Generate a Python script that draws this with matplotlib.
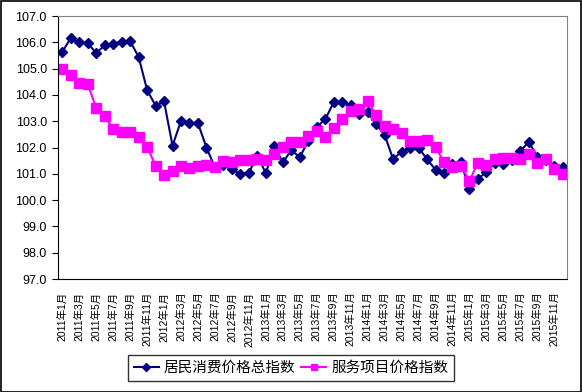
import numpy as np
import matplotlib
matplotlib.use("Agg")
import matplotlib.pyplot as plt
from matplotlib.patches import Rectangle

plt.rcParams['font.family'] = ['Liberation Sans', 'Noto Sans CJK SC', 'DejaVu Sans']

# months 2011-01 .. 2015-12
months = ["{}年{}月".format(y, m) for y in range(2011, 2016) for m in range(1, 13)]

cpi = [105.63, 106.16, 106.00, 105.96, 105.60, 105.88, 105.95, 106.02, 106.04, 105.45,
       104.19, 103.59, 103.75, 102.07, 103.01, 102.92, 102.92, 102.00, 101.24, 101.32,
       101.18, 100.99, 101.04, 101.69, 101.02, 102.06, 101.43, 101.90, 101.63, 102.25,
       102.79, 103.07, 103.72, 103.72, 103.62, 103.26, 103.35, 102.89, 102.48, 101.56,
       101.84, 101.99, 102.00, 101.55, 101.16, 101.04, 101.36, 101.44, 100.41, 100.81,
       101.07, 101.42, 101.36, 101.51, 101.87, 102.21, 101.65, 101.52, 101.30, 101.27]

service = [105.00, 104.77, 104.46, 104.41, 103.51, 103.20, 102.69, 102.59, 102.59, 102.41,
           102.03, 101.31, 100.97, 101.11, 101.31, 101.23, 101.31, 101.35, 101.27, 101.49,
           101.44, 101.52, 101.52, 101.55, 101.51, 101.75, 102.03, 102.21, 102.21, 102.44,
           102.64, 102.41, 102.73, 103.10, 103.38, 103.45, 103.76, 103.22, 102.83, 102.69,
           102.54, 102.23, 102.26, 102.27, 102.03, 101.44, 101.26, 101.29, 100.74, 101.42,
           101.35, 101.57, 101.61, 101.61, 101.56, 101.76, 101.41, 101.57, 101.18, 100.99]

label_cpi = "居民消费价格总指数"
label_service = "服务项目价格指数"

fig = plt.figure(figsize=(5.82, 3.92), dpi=100)
ax = fig.add_axes([58 / 582, 1 - 279 / 392, (567 - 58) / 582, (279 - 16) / 392])

x = np.arange(len(months))
ax.plot(x, cpi, '-', color='#000080', linewidth=1.5, marker='D', markersize=5,
        label=label_cpi)
ax.plot(x, service, '-', color='#FF00FF', linewidth=1.5, marker='s', markersize=6.5,
        label=label_service)

ax.set_xlim(-0.5, len(months) - 0.5)
ax.set_ylim(97, 107)
ax.set_yticks(np.arange(97, 107.5, 1))
ax.set_yticklabels(["{:.1f}".format(v) for v in np.arange(97, 107.5, 1)], fontsize=9)
ax.set_xticks(x[::2])
ax.set_xticklabels(months[::2], rotation=90, fontsize=7.5)
ax.tick_params(axis='x', length=0, pad=9)
ax.tick_params(axis='y', length=4, direction='out', pad=4)

for s in ['top', 'right']:
    ax.spines[s].set_color('#808080')
for s in ['left', 'bottom']:
    ax.spines[s].set_color('black')

leg = ax.legend(loc='center', bbox_to_anchor=(291 / 582, 1 - 368 / 392),
                bbox_transform=fig.transFigure, ncol=2, frameon=True, fancybox=False,
                edgecolor='black', handlelength=1.7, handletextpad=0.35,
                columnspacing=0.4, borderpad=0.4, markerscale=0.75,
                prop={'family': ['Noto Sans CJK SC'], 'size': 10.5})
leg.get_frame().set_linewidth(1.0)

fig.patches.append(Rectangle((0.001, 0.001), 0.997, 0.997, transform=fig.transFigure,
                             fill=False, edgecolor='black', linewidth=1.2))

fig.savefig("out.png", dpi=100)
